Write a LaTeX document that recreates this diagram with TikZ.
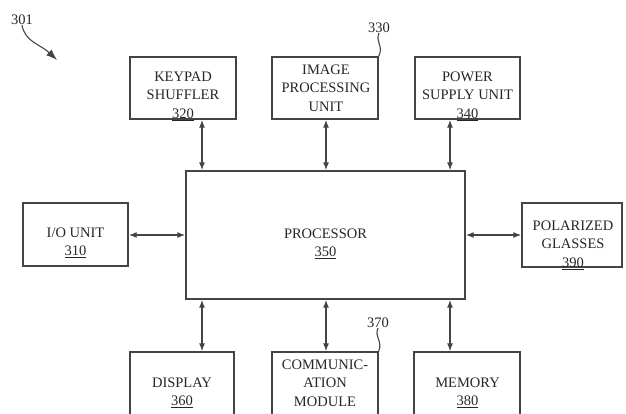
\documentclass[tikz,border=0pt]{standalone}
\usepackage{fontspec}
\setmainfont{Liberation Serif}
\usepackage{tikz}
\usetikzlibrary{arrows.meta}
\definecolor{ink}{HTML}{262626}
\definecolor{frame}{HTML}{444444}
\newcommand{\BoxFont}{\fontsize{14.5}{18.5}\selectfont}

\begin{document}
\begin{tikzpicture}[x=1pt,y=-1pt,
    unit/.style={draw=frame,line width=1.3pt,inner sep=0pt},
    caption/.style={ink,align=center,font=\BoxFont,inner sep=0pt},
    link/.style={<->,>={Latex[length=8pt,width=6pt]},line width=1.3pt,frame},
    leader/.style={line width=1.1pt,frame}]
  \useasboundingbox (0,0) rectangle (626,413);
  \coordinate (c1) at (202,0);
  \coordinate (c2) at (326,0);
  \coordinate (c3) at (450,0);
  \coordinate (r1) at (0,235);
  \node[unit,minimum width=279pt,minimum height=128pt] (proc) at (325.5,235) {};
  \node[unit,minimum width=106pt,minimum height=62pt] (keypad) at (183,88) {};
  \node[unit,minimum width=106pt,minimum height=62pt] (imgproc) at (325,88) {};
  \node[unit,minimum width=105pt,minimum height=62pt] (power) at (467.5,88) {};
  \node[unit,minimum width=105pt,minimum height=63pt] (io) at (75.5,234.5) {};
  \node[unit,minimum width=100pt,minimum height=64pt] (glasses) at (572,235) {};
  \node[unit,minimum width=104pt,minimum height=64pt] (display) at (182,384) {};
  \node[unit,minimum width=106pt,minimum height=64pt] (comm) at (325,384) {};
  \node[unit,minimum width=106pt,minimum height=64pt] (memory) at (467,384) {};
  \node[caption] (proc-txt) at (325.5,244) {PROCESSOR\\\underline{350}};
  \node[caption] (keypad-txt) at (183,96) {KEYPAD\\SHUFFLER\\\underline{320}};
  \node[caption] (imgproc-txt) at (326,88) {IMAGE\\PROCESSING\\UNIT};
  \node[caption] (power-txt) at (467.5,96) {POWER\\SUPPLY UNIT\\\underline{340}};
  \node[caption] (io-txt) at (75.5,243) {I/O UNIT\\\underline{310}};
  \node[caption] (glasses-txt) at (573,245) {POLARIZED\\GLASSES\\\underline{390}};
  \node[caption] (display-txt) at (182,393) {DISPLAY\\\underline{360}};
  \node[caption] (comm-txt) at (325,383) {COMMUNIC-\\ATION\\MODULE};
  \node[caption] (memory-txt) at (467.5,393) {MEMORY\\\underline{380}};
  \draw[link] (keypad.south -| c1) -- (proc.north -| c1);
  \draw[link] (imgproc.south -| c2) -- (proc.north -| c2);
  \draw[link] (power.south -| c3) -- (proc.north -| c3);
  \draw[link] (display.north -| c1) -- (proc.south -| c1);
  \draw[link] (comm.north -| c2) -- (proc.south -| c2);
  \draw[link] (memory.north -| c3) -- (proc.south -| c3);
  \draw[link] (io.east |- r1) -- (proc.west |- r1);
  \draw[link] (proc.east |- r1) -- (glasses.west |- r1);
  \node[caption] (fig-ref) at (22,20) {301};
  \coordinate (fig-tip) at (57,60);
  \draw[leader,-{Latex[length=11pt,width=8pt]}] (fig-ref.south) .. controls (25,42) and (40,44) .. (fig-tip);
  \node[caption] (imgproc-ref) at (379,28) {330};
  \draw[leader] (imgproc-ref.south) .. controls (375,42) and (384,46) .. (imgproc.north east);
  \node[caption] (comm-ref) at (378,323) {370};
  \draw[leader] (comm-ref.south) .. controls (374,337) and (383,341) .. (comm.north east);
\end{tikzpicture}
\end{document}
